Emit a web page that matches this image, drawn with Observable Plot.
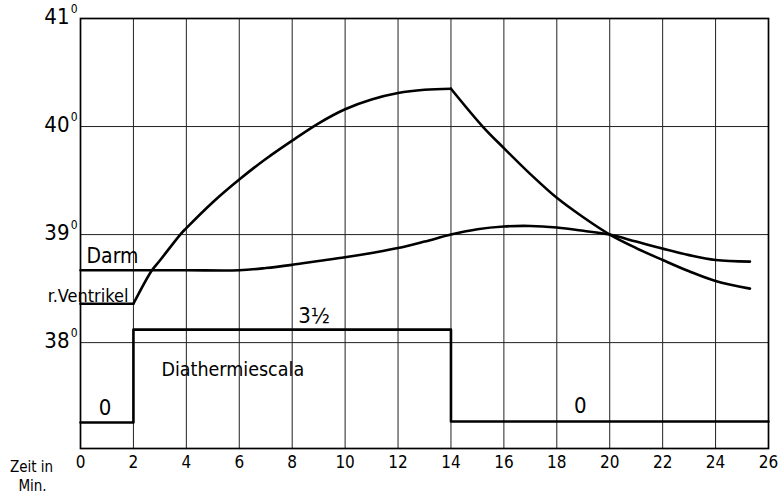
<!DOCTYPE html>
<html>
<head>
<meta charset="utf-8">
<script src="https://cdn.jsdelivr.net/npm/d3@7"></script>
<script src="https://cdn.jsdelivr.net/npm/@observablehq/plot@0.6"></script>
<style>
  html, body { margin: 0; padding: 0; background: #fff; }
  #chart svg { display: block; background: #fff; }
</style>
</head>
<body>
<div id="chart"></div>
<script>
// ---- data ----
const xTicks = [0, 2, 4, 6, 8, 10, 12, 14, 16, 18, 20, 22, 24, 26];
const yTicks = [38, 39, 40, 41];

// Darm (intestine) temperature
const darmX = [0, 2, 4, 6, 7, 8, 9, 10, 11, 12, 13, 14, 15, 16, 17, 18, 19, 20, 21, 22, 23, 24, 25.3];
const darmY = [38.67, 38.67, 38.67, 38.67, 38.69, 38.72, 38.755, 38.79, 38.83, 38.875, 38.935, 39.0, 39.05, 39.075, 39.08, 39.065, 39.035, 39.0, 38.935, 38.87, 38.81, 38.765, 38.75];

// r. Ventrikel (right ventricle) temperature
const ventX = [0, 2, 2.7, 3, 3.77, 4, 5, 6, 7, 8, 9, 10, 11, 12, 13, 14, 15.2, 16, 17, 18, 19, 20, 21, 22, 23, 24, 25.3];
const ventY = [38.36, 38.36, 38.67, 38.76, 39.0, 39.06, 39.30, 39.51, 39.70, 39.87, 40.03, 40.16, 40.25, 40.31, 40.34, 40.35, 40.0, 39.8, 39.56, 39.34, 39.16, 39.0, 38.875, 38.765, 38.66, 38.57, 38.5];
const ventKinks = [2, 14];

// Diathermiescala (step)
const scalaX = [0, 2, 14, 26];
const scalaY = [37.26, 38.12, 37.27, 37.27];
const scalaLabels = ["0", "3\u00BD", "0"];

// ---- build tables ----
const darm = darmX.map((x, i) => ({x, y: darmY[i]}));
const bounds = [ventX[0], ...ventKinks, ventX[ventX.length - 1]];
const vent = [];
for (let s = 0; s < bounds.length - 1; s++) {
  ventX.forEach((x, i) => {
    if (x >= bounds[s] && x <= bounds[s + 1]) vent.push({x, y: ventY[i], seg: s});
  });
}
const scala = scalaX.map((x, i) => ({x, y: scalaY[i]}));

const FONT = "'DejaVu Sans Condensed', 'Liberation Sans', sans-serif";

const chart = Plot.plot({
  width: 780,
  height: 495,
  marginLeft: 80,
  marginRight: 12,
  marginTop: 18,
  marginBottom: 47,
  x: {domain: [0, 26], axis: null},
  y: {domain: [37.02, 41], axis: null},
  style: {background: "#fff", color: "#000"},
  marks: [
    Plot.ruleX(xTicks, {stroke: "#222", strokeWidth: 1}),
    Plot.ruleY(yTicks, {stroke: "#222", strokeWidth: 1}),
    Plot.frame({stroke: "#000", strokeWidth: 1.7}),
    // step scale
    Plot.line(scala, {x: "x", y: "y", curve: "step-after", stroke: "#000", strokeWidth: 2.6}),
    // curves
    Plot.line(darm, {x: "x", y: "y", curve: "catmull-rom", stroke: "#000", strokeWidth: 2.6}),
    Plot.line(vent, {x: "x", y: "y", z: "seg", curve: "catmull-rom", stroke: "#000", strokeWidth: 2.6}),
    // x tick labels
    Plot.text(xTicks, {x: d => d, frameAnchor: "bottom", dy: 19, text: d => String(d),
      fontFamily: FONT, fontSize: 17, fill: "#000"}),
    // y tick labels
    Plot.text(yTicks, {y: d => d, frameAnchor: "left", dx: -11, dy: -2, textAnchor: "end",
      text: d => String(d), fontFamily: FONT, fontSize: 22, fill: "#000"}),
    Plot.text(yTicks, {y: d => d, frameAnchor: "left", dx: -3, dy: -9, textAnchor: "end",
      text: () => "0", fontFamily: FONT, fontSize: 12, fill: "#000"}),
    // axis title
    Plot.text(["Zeit in"], {frameAnchor: "bottom-left", dx: -49, dy: 23, textAnchor: "middle",
      lineAnchor: "bottom", fontFamily: FONT, fontSize: 15, fill: "#000"}),
    Plot.text(["Min."], {frameAnchor: "bottom-left", dx: -48, dy: 42, textAnchor: "middle",
      lineAnchor: "bottom", fontFamily: FONT, fontSize: 15, fill: "#000"}),
    // series labels
    Plot.text(["Darm"], {x: darmX[0], y: darmY[0], dx: 6, dy: -7, textAnchor: "start", lineAnchor: "bottom",
      fontFamily: FONT, fontSize: 21, fill: "#000"}),
    Plot.text(["r.Ventrikel"], {x: ventKinks[0], y: ventY[0], dx: -5, dy: -2, textAnchor: "end", lineAnchor: "bottom",
      fontFamily: FONT, fontSize: 18, fill: "#000"}),
    Plot.text(["Diathermiescala"], {x: scalaX[1], y: scalaY[1], dx: 28, dy: 46, textAnchor: "start", lineAnchor: "bottom",
      fontFamily: FONT, fontSize: 19.5, fill: "#000"}),
    // scale values
    Plot.text([scalaLabels[0]], {x: 1, y: scalaY[0], dx: -2, dy: -8, lineAnchor: "bottom",
      fontFamily: FONT, fontSize: 22, fill: "#000"}),
    Plot.text([scalaLabels[1]], {x: 8, y: scalaY[1], dx: 6, dy: -7, textAnchor: "start", lineAnchor: "bottom",
      fontFamily: FONT, fontSize: 22, fill: "#000"}),
    Plot.text([scalaLabels[2]], {x: 19, y: scalaY[2], dx: -3, dy: -8, lineAnchor: "bottom",
      fontFamily: FONT, fontSize: 22, fill: "#000"})
  ]
});
document.getElementById("chart").appendChild(chart);
</script>
</body>
</html>
